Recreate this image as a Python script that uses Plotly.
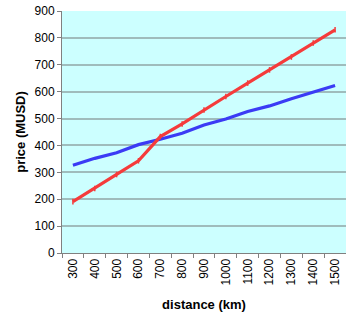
import plotly.graph_objects as go

distance = ["300", "400", "500", "600", "700", "800", "900", "1000", "1100", "1200", "1300", "1400", "1500"]
price_red = [191, 240, 292, 343, 433, 480, 532, 582, 632, 681, 729, 781, 830]
price_blue = [326, 352, 373, 403, 423, 445, 476, 498, 526, 547, 574, 600, 623]
y_ticks = [0, 100, 200, 300, 400, 500, 600, 700, 800, 900]

fig = go.Figure()
fig.add_trace(go.Scatter(
    x=distance, y=price_blue, mode="lines",
    line=dict(color="#3b3bf5", width=3.2), showlegend=False))
fig.add_trace(go.Scatter(
    x=distance, y=price_red, mode="lines+markers",
    line=dict(color="#f53b3b", width=3.2),
    marker=dict(symbol="line-ns", size=4, line=dict(color="#f53b3b", width=1.5)),
    showlegend=False))

fig.update_layout(
    width=346, height=316,
    margin=dict(l=62, r=0, t=11, b=63),
    paper_bgcolor="white", plot_bgcolor="#ccffff",
    font=dict(family="Liberation Sans, Arial", size=12, color="black"),
)
fig.update_xaxes(
    type="category", tickson="boundaries", ticks="outside", ticklen=4,
    tickcolor="#808080", tickangle=-90, showgrid=False, automargin=False,
    showline=True, linecolor="#808080", linewidth=1,
    title=dict(text="<b>distance (km)</b>", font=dict(size=13), standoff=15),
    range=[-0.5, 12.5],
)
fig.update_yaxes(
    range=[0, 900], tickvals=y_ticks, ticks="outside", ticklen=4, automargin=False,
    tickcolor="#808080", showline=True, linecolor="#808080", linewidth=1,
    gridcolor="#9fbcbc", gridwidth=1.5, zeroline=False,
    title=dict(text="<b>price (MUSD)</b>", font=dict(size=13), standoff=6),
)
fig.write_html("out.html", config={"displayModeBar": False},
               post_script="document.body.style.margin='0';document.body.style.overflow='hidden';")
